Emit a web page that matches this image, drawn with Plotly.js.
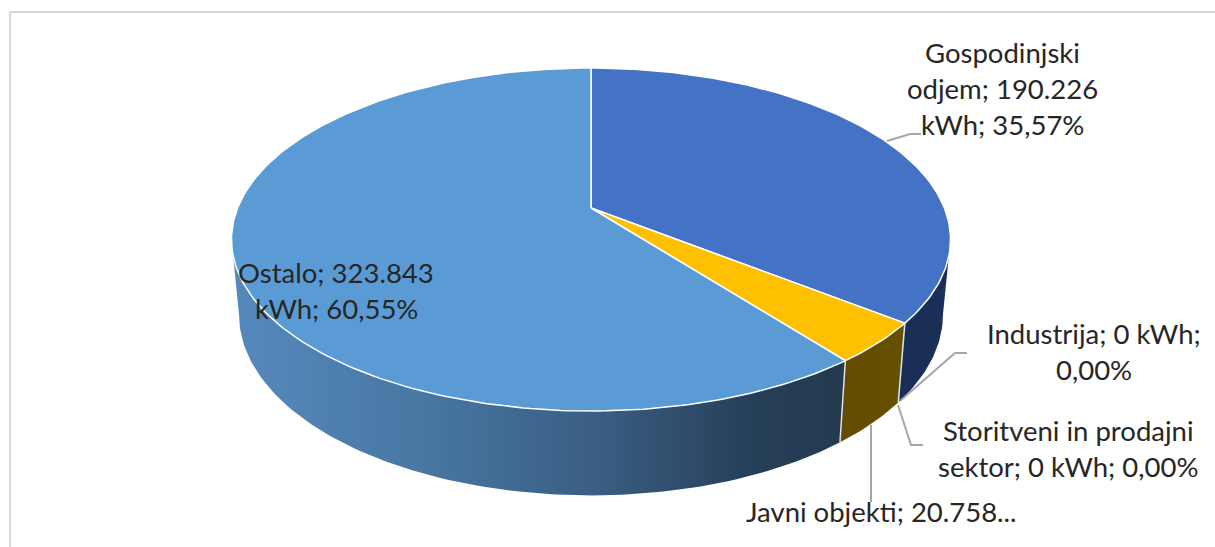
<!DOCTYPE html>
<html>
<head>
<meta charset="utf-8">
<script src="https://cdn.plot.ly/plotly-3.0.1.min.js"></script>
<style>html,body{margin:0;padding:0;background:#fff}#chart{width:1215px;height:547px}</style>
</head>
<body>
<div id="chart"></div>
<script>
// Electricity use by sector, kWh
const categories = ["Gospodinjski odjem", "Industrija", "Storitveni in prodajni sektor", "Javni objekti", "Ostalo"];
const values = [190226, 0, 0, 20758, 323843];
const topColors = ["#4472C4", "#ED7D31", "#A5A5A5", "#FFC000", "#5B9BD5"];
const sideScales = [
  [[0, "#1A2D55"], [1, "#1B2F58"]],
  null,
  null,
  [[0, "#634B00"], [1, "#665000"]],
  [[0, "#5689BC"], [0.3, "#4878A4"], [0.6, "#3A5D82"], [0.85, "#263F58"], [1, "#233A4F"]]
];

// Label lines, one list per label
const labelLines = [
  ["Gospodinjski", "odjem; 190.226", "kWh; 35,57%"],
  ["Industrija; 0 kWh;", "0,00%"],
  ["Storitveni in prodajni", "sektor; 0 kWh; 0,00%"],
  ["Javni objekti; 20.758..."],
  ["Ostalo; 323.843", "kWh; 60,55%"]
];
const labelCenterX = [1002, 1094, 1068, 881, 336];
const labelFirstY = [52.5, 333.5, 430.5, 511.5, 272.5];
const lineStep = 36;

// Leader lines, in paper pixels
const leaderX = [[887, 910, 921], [900, 955, 967], [898, 911, 923], [871, 871]];
const leaderY = [[141, 134, 134], [401, 353, 353], [405, 445, 445], [425, 502]];

// Perspective projection of the disc: top face and bottom face
const CX = 591, K = 0.1837;
const TOP = {y0: 208, a: 165.7, b: 353.4};
const BOTTOM = {y0: 281, a: 175, b: 346};

function project(face, deg) {
  const t = deg * Math.PI / 180, u = Math.sin(t), v = Math.cos(t), w = 1 + K * v;
  return [CX + face.b * u / w, face.y0 - face.a * v / w];
}
function rim(face, from, to) {
  const pts = [], n = Math.max(1, Math.ceil(Math.abs(to - from)));
  for (let i = 0; i <= n; i++) pts.push(project(face, from + (to - from) * i / n));
  return pts;
}

const total = values.reduce((a, b) => a + b, 0);
const spans = [];
let acc = 0;
values.forEach(v => { const s = acc; acc += v / total * 360; spans.push([s, acc]); });

const base = {type: "scatter", mode: "lines", hoverinfo: "skip", showlegend: false};
const traces = [];

// Visible part of the outer wall lies between the two silhouette angles
const WALL_FROM = 100.6, WALL_TO = 259.4;
spans.forEach((s, i) => {
  const a = Math.max(s[0], WALL_FROM), b = Math.min(s[1], WALL_TO);
  if (b <= a || !sideScales[i]) return;
  const pts = rim(TOP, a, b).concat(rim(BOTTOM, b, a));
  traces.push(Object.assign({}, base, {
    name: categories[i] + " wall",
    x: pts.map(p => p[0]), y: pts.map(p => p[1]),
    fill: "toself", line: {width: 0},
    fillgradient: {type: "horizontal", colorscale: sideScales[i]}
  }));
});

// Seams between wall segments
spans.forEach((s, i) => {
  if (values[i] === 0 || s[1] <= WALL_FROM || s[1] >= WALL_TO) return;
  const p = project(TOP, s[1]), q = project(BOTTOM, s[1]);
  traces.push(Object.assign({}, base, {
    x: [p[0], q[0]], y: [p[1], q[1]], line: {color: "#DDE3E8", width: 1.5}
  }));
});

// Top face wedges
spans.forEach((s, i) => {
  if (values[i] === 0) return;
  const pts = [[CX, TOP.y0]].concat(rim(TOP, s[0], s[1]));
  pts.push([CX, TOP.y0]);
  traces.push(Object.assign({}, base, {
    name: categories[i],
    x: pts.map(p => p[0]), y: pts.map(p => p[1]),
    fill: "toself", fillcolor: topColors[i], line: {color: "#FFFFFF", width: 1.5}
  }));
});

// Leader lines
leaderX.forEach((xs, i) => {
  traces.push(Object.assign({}, base, {x: xs, y: leaderY[i], line: {color: "#A6A6A6", width: 2}}));
});

const annotations = [];
labelLines.forEach((lines, i) => {
  lines.forEach((text, j) => {
    annotations.push({
      x: labelCenterX[i], y: labelFirstY[i] + j * lineStep,
      xref: "x", yref: "y", text, showarrow: false, xanchor: "center", yanchor: "middle",
      font: {family: "Lato, sans-serif", size: 27.5, color: "#262626"}
    });
  });
});

const layout = {
  width: 1215, height: 547,
  margin: {l: 0, r: 0, t: 0, b: 0},
  paper_bgcolor: "#FFFFFF", plot_bgcolor: "#FFFFFF",
  xaxis: {range: [0, 1215], visible: false, fixedrange: true},
  yaxis: {range: [547, 0], visible: false, fixedrange: true},
  annotations,
  shapes: [
    {type: "line", xref: "x", yref: "y", x0: 10, x1: 1215, y0: 12, y1: 12, line: {color: "#D9D9D9", width: 2}},
    {type: "line", xref: "x", yref: "y", x0: 10, x1: 10, y0: 12, y1: 547, line: {color: "#D9D9D9", width: 2}}
  ],
  showlegend: false
};

Plotly.newPlot("chart", traces, layout, {displayModeBar: false, staticPlot: true});
</script>
</body>
</html>
